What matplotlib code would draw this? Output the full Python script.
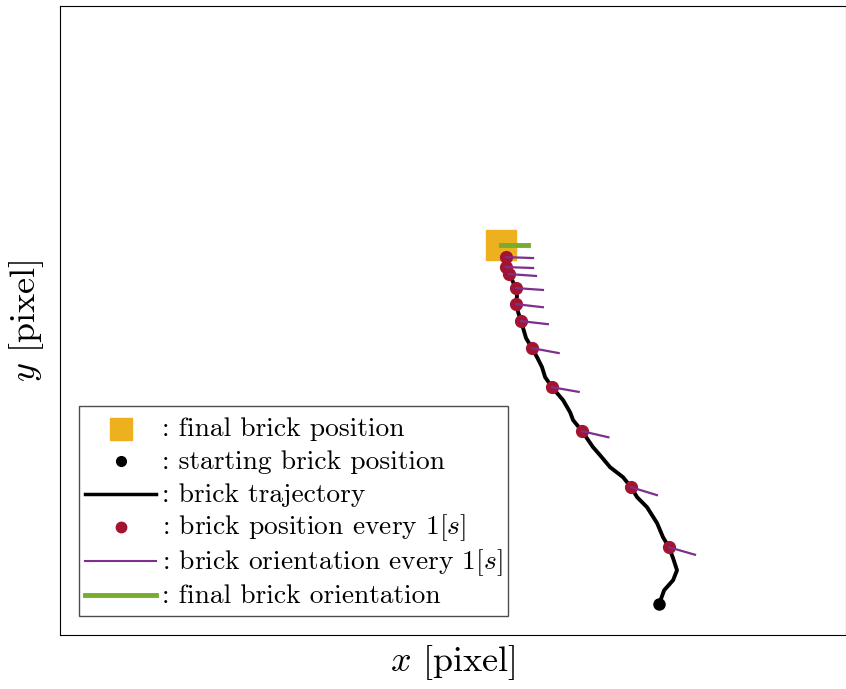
import numpy as np
import matplotlib
matplotlib.use("Agg")
import matplotlib.pyplot as plt
from matplotlib.lines import Line2D

plt.rcParams['font.family'] = 'serif'
plt.rcParams['font.serif'] = ['cmr10']
plt.rcParams['mathtext.fontset'] = 'cm'
plt.rcParams['axes.unicode_minus'] = False

# camera image size (pixel)
img_w, img_h = 640, 512

# brick trajectory (pixel), from start to end
traj_x = [487.8, 491.9, 499.2, 502.4, 499.2, 495.9, 491.0, 486.2, 478.0, 469.9,
          465.0, 458.5, 447.9, 439.7, 434.0, 425.1, 417.8, 415.3, 409.6, 404.7,
          400.7, 395.0, 392.5, 388.4, 384.4, 379.5, 375.4, 373.0, 371.3, 372.1,
          371.3, 368.1, 365.6, 363.2, 363.2, 360.7, 359.1]
traj_y = [487.0, 475.6, 467.4, 459.3, 449.5, 440.6, 432.4, 421.0, 408.0, 399.8,
          391.7, 383.6, 375.4, 365.6, 359.1, 346.1, 337.1, 330.6, 320.8, 315.1,
          310.3, 302.1, 294.0, 285.8, 278.5, 270.4, 256.5, 249.2, 242.7, 236.2,
          229.6, 223.1, 218.2, 212.5, 204.4, 198.7, 194.6]

# brick position and orientation every 1 s
sec_x = [495.9, 465.0, 425.1, 400.7, 384.4, 375.4, 371.3, 371.3, 365.6, 363.2, 363.2]
sec_y = [440.6, 391.7, 346.1, 310.3, 278.5, 256.5, 242.7, 229.6, 218.2, 212.5, 204.4]
sec_theta = [16, 17, 13, 10, 10.5, 6.5, 6.5, 4, 4, 2, 2]  # deg

final_theta = 0.0
arrow_len = 22.0

c_orange = '#EDB120'
c_red = '#A2142F'
c_purple = '#7E2F8E'
c_green = '#77AC30'

fig = plt.figure(figsize=(8.46, 6.89), dpi=100)
ax = fig.add_axes([60 / 846, 1 - 635 / 689, 786 / 846, 629 / 689])

ax.plot(traj_x, traj_y, color='k', lw=2.8, zorder=2)
ax.plot(traj_x[0], traj_y[0], 'o', color='k', ms=8, zorder=4)

for x, y, t in zip(sec_x, sec_y, sec_theta):
    a = np.deg2rad(t)
    ax.plot([x, x + arrow_len * np.cos(a)], [y, y + arrow_len * np.sin(a)],
            color=c_purple, lw=1.6, zorder=5)
ax.plot(sec_x, sec_y, 'o', color=c_red, ms=8.5, zorder=4)

fx, fy = traj_x[-1], traj_y[-1]
ax.plot(fx, fy, 's', color=c_orange, ms=21.5, zorder=3)
a = np.deg2rad(final_theta)
ax.plot([fx, fx + arrow_len * np.cos(a)], [fy, fy + arrow_len * np.sin(a)],
        color=c_green, lw=3.5, zorder=6)

ax.set_xlim(0, img_w)
ax.set_ylim(img_h, 0)
ax.set_xticks([])
ax.set_yticks([])
ax.set_xlabel(r'$x$ [pixel]', fontsize=26, labelpad=6)
ax.set_ylabel(r'$y$ [pixel]', fontsize=26, labelpad=10)

handles = [
    Line2D([], [], ls='none', marker='s', color=c_orange, ms=16),
    Line2D([], [], ls='none', marker='o', color='k', ms=7),
    Line2D([], [], color='k', lw=2.5),
    Line2D([], [], ls='none', marker='o', color=c_red, ms=7.5),
    Line2D([], [], color=c_purple, lw=1.5),
    Line2D([], [], color=c_green, lw=3.5),
]
labels = [': final brick position', ': starting brick position', ': brick trajectory',
          r': brick position every 1[$s$]', r': brick orientation every 1[$s$]',
          ': final brick orientation']
leg = ax.legend(handles, labels, loc='lower left', fontsize=19.8, handlelength=2.6,
                handleheight=1.45, handletextpad=0.2, labelspacing=0.0,
                borderaxespad=0.7, borderpad=0.2, fancybox=False, framealpha=1,
                edgecolor='0.3')
leg.get_frame().set_linewidth(1.0)
# the tall handle boxes lift the symbols; put them back level with the text
for h in leg.legend_handles:
    h.set_ydata(np.asarray(h.get_ydata(), dtype=float) - 3.6)

fig.savefig('out.png', dpi=100)
